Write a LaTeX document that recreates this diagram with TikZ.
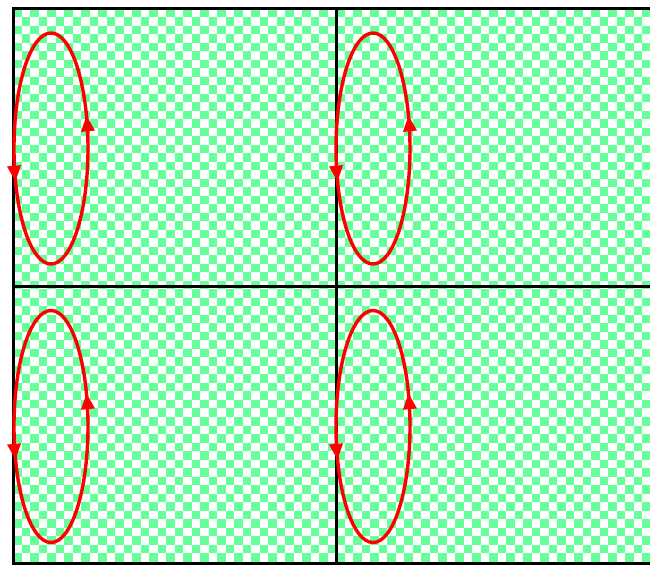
\documentclass[tikz,border=0pt]{standalone}
\usetikzlibrary{arrows.meta, decorations.markings}
\definecolor{CheckGreen}{RGB}{102,255,153}
\definecolor{LoopRed}{RGB}{255,0,0}

\tikzset{
  cyclearc/.style={draw=LoopRed, line width=3.4pt, postaction={decorate},
    decoration={markings,
      mark=at position 0.065 with {\arrow{Triangle[length=16pt,width=13pt]}},
      mark=at position 0.565 with {\arrow{Triangle[length=16pt,width=13pt]}}}},
  gridline/.style={black, line width=3pt}
}

\begin{document}
\begin{tikzpicture}[x=1pt,y=1pt]
    \useasboundingbox (0,0) rectangle (650,565);
    % checkerboard background
    \begin{scope}
      \clip (13,2) rectangle (650,556);
      \foreach \j [evaluate=\j as \s using {int(mod(\j,2))}, evaluate=\j as \t using {int(mod(\j,2)+2)}] in {0,...,65}
        \foreach \i in {\s,\t,...,75}
          \fill[CheckGreen] (13+8.5*\i,556-8.5*\j) rectangle ++(8.5,-8.5);
    \end{scope}
    % cells
    \draw[gridline] (13.5,556) -- (13.5,0);
    \draw[gridline] (336,556) -- (336,0);
    \draw[gridline] (12,556) -- (650,556);
    \draw[gridline] (12,278) -- (650,278);
    \draw[gridline] (12,2) -- (650,2);
    % loops
    \draw[cyclearc] (51,416.5) ellipse [x radius=37, y radius=115.5];
    \draw[cyclearc] (373,416.5) ellipse [x radius=37, y radius=115.5];
    \draw[cyclearc] (51,138.5) ellipse [x radius=37, y radius=116];
    \draw[cyclearc] (373,138.5) ellipse [x radius=37, y radius=116];
  \end{tikzpicture}
\end{document}
